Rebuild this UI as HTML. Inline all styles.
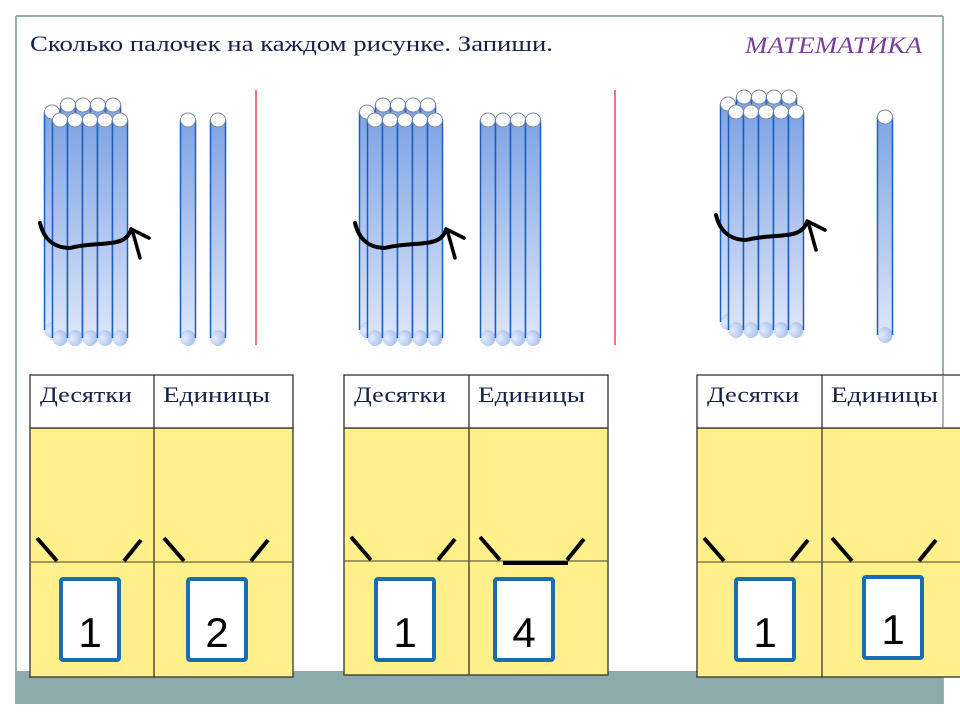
<!DOCTYPE html>
<html><head><meta charset="utf-8"><style>
html,body{margin:0;padding:0;background:#fff;}
svg{display:block;}
</style></head><body>
<svg width="960" height="720" viewBox="0 0 960 720" xmlns="http://www.w3.org/2000/svg">
<defs>
<linearGradient id="sg" x1="0" y1="0" x2="0" y2="1">
<stop offset="0" stop-color="#7fa4e4"/><stop offset="1" stop-color="#dde6f8"/>
</linearGradient>
<radialGradient id="bg" cx="0.3" cy="0.5" r="0.8">
<stop offset="0" stop-color="#e6edfb"/><stop offset="1" stop-color="#9db8ea"/>
</radialGradient>
<g id="st">
<rect x="-7.5" y="0" width="15" height="218" fill="url(#sg)"/>
<ellipse cx="0" cy="218" rx="7.5" ry="8" fill="url(#bg)"/>
<line x1="-7.5" y1="0" x2="-7.5" y2="218" stroke="#1a5fc0" stroke-width="1.5"/>
<line x1="7.5" y1="0" x2="7.5" y2="218" stroke="#1a5fc0" stroke-width="1.5"/>
<ellipse cx="0" cy="0" rx="7.5" ry="7" fill="#fff" stroke="#7f8aa0" stroke-width="1"/>
</g>
<g id="bun">
<use href="#st" x="52" y="112"/><use href="#st" x="68" y="105"/><use href="#st" x="83" y="105"/><use href="#st" x="98" y="105"/><use href="#st" x="113" y="105"/>
<use href="#st" x="60" y="120"/><use href="#st" x="75" y="120"/><use href="#st" x="90" y="120"/><use href="#st" x="105" y="120"/><use href="#st" x="120" y="120"/>
<path d="M40 223 C44 240 55 248 70 248 C85 244 95 245 110 243 C122 242 128 238 131 230" fill="none" stroke="#000" stroke-width="4" stroke-linecap="round"/>
<path d="M131 229 L149 238 M133 233 L140 258" fill="none" stroke="#000" stroke-width="3.5" stroke-linecap="round"/>
</g>
<g id="ck">
<line x1="37" y1="538" x2="57" y2="561" stroke="#000" stroke-width="4"/>
<line x1="124" y1="561" x2="141" y2="540" stroke="#000" stroke-width="4"/>
</g>
</defs>

<line x1="16" y1="16" x2="943" y2="16" stroke="#7a9696" stroke-width="1.5"/>
<line x1="16" y1="16" x2="16" y2="704" stroke="#7a9696" stroke-width="1.5"/>
<line x1="943" y1="16" x2="943" y2="704" stroke="#7a9696" stroke-width="1.5"/>
<rect x="16" y="671" width="927" height="33" fill="#8eabab"/>

<text x="30" y="51" font-family="Liberation Serif, serif" font-size="22" fill="#14204a" textLength="523" lengthAdjust="spacingAndGlyphs">Сколько палочек на каждом рисунке. Запиши.</text>
<text x="745" y="53" font-family="Liberation Serif, serif" font-style="italic" font-size="23" fill="#7a3f9a" textLength="177" lengthAdjust="spacingAndGlyphs">МАТЕМАТИКА</text>

<use href="#bun"/>
<use href="#st" x="188" y="120"/><use href="#st" x="218" y="120"/>
<line x1="256" y1="90" x2="256" y2="345" stroke="#e03030" stroke-width="1.3"/>

<use href="#bun" x="315"/>
<use href="#st" x="488" y="120"/><use href="#st" x="503" y="120"/><use href="#st" x="518" y="120"/><use href="#st" x="533" y="120"/>
<line x1="615" y1="90" x2="615" y2="345" stroke="#e03030" stroke-width="1.3"/>

<use href="#bun" x="676" y="-8"/>
<use href="#st" x="885" y="117"/>

<g stroke="#333" stroke-width="1.3">
<rect x="30" y="428" width="263" height="249" fill="#fff08c"/>
<rect x="30" y="375" width="263" height="53" fill="#fff"/>
<line x1="154" y1="375" x2="154" y2="677"/>
<line x1="30" y1="562" x2="293" y2="562" stroke="#6b6440"/>

<rect x="344" y="428" width="264" height="247" fill="#fff08c"/>
<rect x="344" y="375" width="264" height="53" fill="#fff"/>
<line x1="469" y1="375" x2="469" y2="675"/>
<line x1="344" y1="561" x2="608" y2="561" stroke="#6b6440"/>

<rect x="697" y="428" width="270" height="249" fill="#fff08c"/>
<rect x="697" y="375" width="270" height="53" fill="#fff"/>
<line x1="822" y1="375" x2="822" y2="677"/>
<line x1="697" y1="562" x2="960" y2="562" stroke="#6b6440"/>
<line x1="943" y1="375" x2="943" y2="428" stroke="#888"/>
</g>
<g font-family="Liberation Serif, serif" font-size="22" fill="#14204a" lengthAdjust="spacingAndGlyphs">
<text x="40" y="402" textLength="92" lengthAdjust="spacingAndGlyphs">Десятки</text><text x="163" y="402" textLength="107" lengthAdjust="spacingAndGlyphs">Единицы</text>
<text x="354" y="402" textLength="92" lengthAdjust="spacingAndGlyphs">Десятки</text><text x="478" y="402" textLength="107" lengthAdjust="spacingAndGlyphs">Единицы</text>
<text x="707" y="402" textLength="92" lengthAdjust="spacingAndGlyphs">Десятки</text><text x="831" y="402" textLength="107" lengthAdjust="spacingAndGlyphs">Единицы</text>
</g>

<use href="#ck"/><use href="#ck" x="127"/>
<use href="#ck" x="314" y="-1"/><use href="#ck" x="443" y="-1"/>
<line x1="503" y1="563" x2="568" y2="563" stroke="#000" stroke-width="4"/>
<use href="#ck" x="667"/><use href="#ck" x="795"/>

<g fill="#fff" stroke="#1a6cb5" stroke-width="4">
<rect x="61" y="579" width="58" height="81" rx="2"/>
<rect x="188" y="579" width="58" height="81" rx="2"/>
<rect x="376" y="579" width="58" height="81" rx="2"/>
<rect x="495" y="579" width="58" height="81" rx="2"/>
<rect x="736" y="579" width="58" height="81" rx="2"/>
<rect x="864" y="577" width="58" height="81" rx="2"/>
</g>
<g font-family="Liberation Sans, sans-serif" font-size="42" fill="#000" text-anchor="middle">
<text x="90" y="647">1</text><text x="217" y="647">2</text>
<text x="405" y="647">1</text><text x="524" y="647">4</text>
<text x="765" y="647">1</text><text x="893" y="644">1</text>
</g>
</svg>
</body></html>
